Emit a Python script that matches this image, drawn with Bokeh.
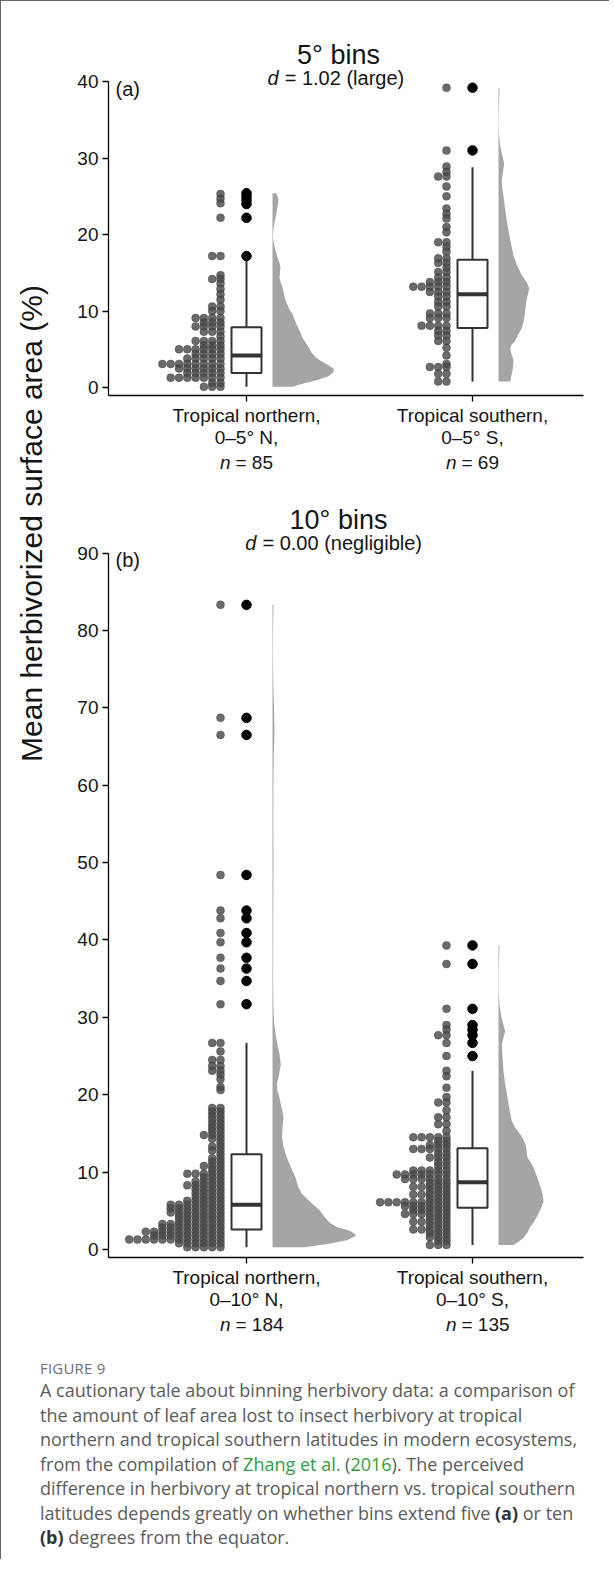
import math
import numpy as np
from bokeh.plotting import figure
from bokeh.models import Range1d, FixedTicker, Label, Div
from bokeh.layouts import column, row
from bokeh.embed import file_html
from bokeh.resources import INLINE
from bokeh.core.properties import value

# ---------------- data ----------------
group_pos = [1, 2]
xlab_a = ["Tropical northern,\n0–5° N,", "Tropical southern,\n0–5° S,"]
xlab_b = ["Tropical northern,\n0–10° N,", "Tropical southern,\n0–10° S,"]
n_a = [85, 69]
n_b = [184, 135]
title_a, effect_a, tag_a = "5° bins", "= 1.02 (large)", "(a)"
title_b, effect_b, tag_b = "10° bins", "= 0.00 (negligible)", "(b)"
yticks_a = [0, 10, 20, 30, 40]
yticks_b = [0, 10, 20, 30, 40, 50, 60, 70, 80, 90]
ylabel = "Mean herbivorized surface area (%)"

# dot-plot bins (value of bin, number of stacked dots)
a_n_vals = [25.3, 24.7, 24.1, 22.2, 17.2, 14.7, 14.2, 13.6, 12.9, 12.2, 11.5, 10.6, 10.0, 9.1, 8.5,
            8.0, 7.3, 6.7, 6.1, 5.5, 5.0, 4.4, 3.8, 3.1, 2.5, 1.9, 1.3, 0.6, 0.1]
a_n_cnt = [1, 1, 1, 1, 2, 1, 2, 1, 1, 1, 1, 2, 2, 4, 3, 4, 3, 1, 4, 3, 6, 4, 5, 8, 6, 5, 7, 2, 3]
a_s_vals = [39.2, 31.0, 28.9, 28.2, 27.6, 26.3, 25.0, 23.4, 22.7, 22.1, 21.0, 20.3, 19.0, 18.4, 17.8,
            16.9, 16.3, 15.7, 15.1, 14.4, 13.8, 13.2, 12.5, 11.9, 11.2, 10.6, 9.7, 9.1, 8.1, 7.4,
            6.8, 6.1, 5.2, 4.2, 3.1, 2.7, 1.8, 0.8]
a_s_cnt = [1, 1, 1, 1, 2, 1, 1, 1, 1, 1, 1, 1, 2, 1, 1, 2, 2, 1, 2, 2, 3, 5, 3, 2, 2, 2, 3, 3, 4, 2,
           2, 2, 1, 1, 1, 3, 2, 2]
b_n_vals = [83.3, 68.7, 66.5, 48.4, 43.8, 42.8, 40.9, 39.7, 37.7, 36.3, 34.7, 31.7,
            26.7, 25.6, 24.5, 23.7, 23.1, 22.6, 22.0, 21.0, 20.6,
            18.3, 17.8, 17.3, 16.8, 16.3, 15.8, 15.3, 14.8, 14.3, 13.8, 13.3, 12.8, 12.3, 11.8,
            11.3, 10.8, 10.3, 9.8, 9.3, 8.8, 8.3, 7.8, 7.3, 6.8, 6.3, 5.8, 5.3, 4.8, 4.3, 3.8,
            3.3, 2.8, 2.3, 1.8, 1.3, 0.8, 0.3]
b_n_cnt = [1, 1, 1, 1, 1, 1, 1, 1, 1, 1, 1, 1,
           2, 1, 2, 2, 2, 1, 1, 1, 1,
           2, 2, 2, 2, 2, 2, 2, 3, 2, 1, 2, 2, 1, 2,
           2, 3, 2, 5, 3, 4, 5, 4, 4, 4, 5, 7, 7, 7, 6, 6,
           8, 8, 10, 9, 12, 6, 5]
b_s_vals = [39.3, 36.9, 31.1, 29.0, 28.4, 27.7, 26.7, 25.0, 23.1, 22.4, 20.9, 19.7, 19.0, 18.0,
            17.1, 16.2, 15.3, 14.5, 14.0, 13.5, 13.0, 12.4, 11.9, 11.3, 10.8, 10.2, 9.7, 9.1,
            8.6, 8.1, 7.6, 7.1, 6.6, 6.1, 5.6, 5.1, 4.6, 4.1, 3.6, 3.1, 2.6, 2.1, 1.6, 1.1, 0.6]
b_s_cnt = [1, 1, 1, 1, 1, 2, 1, 1, 1, 1, 1, 1, 2, 1,
           2, 2, 1, 5, 2, 3, 5, 2, 3, 2, 2, 5, 7, 6,
           3, 5, 3, 5, 3, 9, 6, 5, 6, 3, 5, 3, 5, 3, 3, 2, 3]

# box-plot statistics: lower whisker, Q1, median, Q3, upper whisker
a_n_box = [0.1, 1.9, 4.2, 7.9, 16.9]
a_s_box = [0.8, 7.8, 12.2, 16.7, 28.8]
b_n_box = [0.3, 2.6, 5.8, 12.3, 26.7]
b_s_box = [0.6, 5.4, 8.7, 13.1, 23.1]
a_n_out = [25.4, 25.0, 24.5, 24.0, 22.2, 17.2]
a_s_out = [39.2, 31.0]
b_n_out = [83.3, 68.7, 66.5, 48.4, 43.8, 42.8, 40.9, 39.7, 37.7, 36.3, 34.7, 31.7]
b_s_out = [39.3, 36.9, 31.1, 29.0, 28.4, 27.7, 26.7, 25.0]

# half-violin density profiles (value, density width)
a_n_dy = [0.1, 0.5, 1.0, 1.5, 2.0, 2.5, 3.0, 3.5, 4.0, 4.6, 5.3, 5.9, 6.5, 7.2, 8.0, 8.9, 9.6,
          10.2, 10.8, 11.4, 12.2, 13.1, 13.8, 14.4, 15.0, 15.7, 16.3, 17.0, 17.8, 18.7, 19.3,
          19.9, 20.8, 22.0, 22.9, 23.7, 24.3, 24.8, 25.4]
a_n_dw = [20, 30, 45, 56, 61, 61, 55, 48, 43, 39, 36, 33, 30, 28, 25, 22, 20,
          17, 15, 13, 11.5, 10, 8, 7, 7.5, 8, 7, 5, 3.3, 1.7, 0.8,
          0.4, 1, 2.7, 4, 5, 6, 5.5, 4]
a_s_dy = [0.8, 1.3, 1.8, 2.6, 3.6, 4.4, 5.1, 5.6, 6.1, 7.0, 7.8, 8.9, 10.0, 11.3, 12.2, 13.0,
          13.8, 14.7, 16.0, 17.3, 18.5, 19.8, 21.1, 22.4, 23.7, 25.0, 26.0, 27.1, 28.2, 29.3,
          30.5, 31.5, 32.3, 33.6, 35.0, 36.5, 38.0, 39.2]
a_s_dw = [11.7, 12.5, 13.3, 14.5, 15, 13, 11.7, 13, 16.7, 20, 23.3, 25.5, 26.7, 27.7, 29.5, 30.7,
          28, 23.3, 18.5, 15, 13, 11, 9.2, 7.7, 6.3, 5, 3.8, 3.3, 4.5, 5.7,
          3.5, 1.8, 1, 0.3, 0.3, 0.5, 0.8, 1]
b_n_dy = [0.3, 0.7, 1.2, 1.8, 2.4, 2.9, 3.5, 4.2, 5.1, 6.0, 7.2, 8.2, 9.4, 10.6, 11.9, 13.2, 14.5,
          15.8, 17.1, 18.4, 19.6, 20.5, 21.3, 22.6, 23.9, 25.2, 26.5, 27.4, 28.2, 29.5, 31, 35,
          40, 45, 50, 55, 60, 64, 67, 70, 73, 77, 80, 83.3]
b_n_dw = [32, 55, 74, 84, 78, 64, 57, 52, 47, 39, 29.3, 25.5, 22.7, 18.5, 14.3, 11, 9.5,
          10, 11, 9, 7, 5, 4.3, 6.5, 8.3, 7, 5, 3.5, 2.7, 1.5, 1, 0.6,
          0.7, 0.8, 1, 0.8, 0.9, 1.3, 2, 1.5, 0.8, 0.4, 0.5, 1]
b_s_dy = [0.6, 1.0, 1.5, 2.2, 2.9, 3.5, 4.2, 5.2, 6.2, 7.2, 8.2, 9.4, 10.6, 11.3, 11.9, 12.8,
          13.6, 14.3, 14.9, 15.7, 16.6, 17.7, 18.8, 20.0, 21.5, 23.0, 24.8, 26.5, 27.4, 28.2,
          29.0, 30.0, 31.6, 33.0, 34.6, 36.5, 38.0, 39.3]
b_s_dw = [15, 20, 25, 29, 31.7, 35, 38.3, 42, 45, 44, 41.7, 38.5, 35, 32, 29, 28,
          27, 24.5, 21.7, 17, 13.3, 11.5, 10, 8.5, 6.5, 5, 4, 3.3, 5, 6.7,
          5, 2.8, 1, 0.4, 0.3, 0.4, 0.7, 1]

caption_head = "FIGURE 9"
caption_lines = [
    "A cautionary tale about binning herbivory data: a comparison of",
    "the amount of leaf area lost to insect herbivory at tropical",
    "northern and tropical southern latitudes in modern ecosystems,",
    "from the compilation of <span style='color:#2f9e3c'>Zhang et al.</span> (<span style='color:#2f9e3c'>2016</span>). The perceived",
    "difference in herbivory at tropical northern vs. tropical southern",
    "latitudes depends greatly on whether bins extend five <b style='color:#333'>(a)</b> or ten",
    "<b style='color:#333'>(b)</b> degrees from the equator.",
]

# ---------------- layout constants ----------------
PX = 226.0           # pixels per category unit
FW = 543             # panel figure width
ML, MR = 52, 16
X0 = 1 - (253 - 115) / PX
X1 = X0 + (FW - ML - MR) / PX
FONT = "Liberation Sans"
TXT = "#151515"
DOT = 8.3
DOT_OFF = 26
BOX_HW = 15
VIO_OFF = 26
MB = 49
NH = 22


def panel(top_border, frame_h, ylo, ytop, yhi, yticks, xlabels, title, effect, tag,
          title_dy, sub_dy, tag_dy, groups):
    p = figure(width=FW, height=top_border + frame_h + MB, x_range=Range1d(X0, X1),
               y_range=Range1d(ylo, yhi), output_backend="svg", toolbar_location=None,
               min_border_left=ML, min_border_right=MR, min_border_top=top_border,
               min_border_bottom=MB, outline_line_color=None)
    p.grid.visible = False
    scale = frame_h / (yhi - ylo)

    for c, (vals, cnts, box, outs, dy, dw) in zip(group_pos, groups):
        base = c + VIO_OFF / PX
        dy_a = np.array(dy, float)
        dw_a = np.array(dw, float)
        p.harea(x1=np.full(len(dy_a), base), x2=base + dw_a / PX, y=dy_a,
                fill_color="#a5a5a5", fill_alpha=1.0)
        xs, ys = [], []
        for v, k in zip(vals, cnts):
            for j in range(k):
                xs.append(c - (DOT_OFF + j * DOT) / PX)
                ys.append(v)
        p.scatter(xs, ys, size=8, fill_color="#4a4a4a", fill_alpha=0.82,
                  line_color="#2e2e2e", line_alpha=0.55, line_width=0.6)
        lo, q1, med, q3, hi = box
        p.segment([c, c], [lo, q3], [c, c], [q1, hi], line_color="#333333", line_width=2)
        p.quad(left=[c - BOX_HW / PX], right=[c + BOX_HW / PX], bottom=[q1], top=[q3],
               fill_color="white", line_color="#333333", line_width=2)
        p.segment([c - BOX_HW / PX], [med], [c + BOX_HW / PX], [med],
                  line_color="#333333", line_width=4)
        p.scatter([c] * len(outs), outs, size=9.5, fill_color="black", line_color="black")

    p.xaxis.ticker = FixedTicker(ticks=group_pos)
    p.xaxis.major_label_overrides = {g: lab for g, lab in zip(group_pos, xlabels)}
    p.yaxis.ticker = FixedTicker(ticks=yticks)
    p.yaxis.bounds = (ylo, ytop)
    for ax in (p.xaxis[0], p.yaxis[0]):
        ax.axis_line_color = "black"
        ax.axis_line_width = 1.3
        ax.major_tick_line_color = "black"
        ax.major_tick_line_width = 1.3
        ax.major_tick_out = 6
        ax.major_tick_in = 0
        ax.minor_tick_line_color = None
        ax.major_label_text_font = FONT
        ax.major_label_text_font_size = "19px"
        ax.major_label_text_color = TXT
        ax.major_label_text_line_height = 1.05
    p.yaxis.major_label_standoff = 4
    p.xaxis.major_label_standoff = 3

    def yat(dy_px):
        return ytop + dy_px / scale

    xc = 1 + (345 - 253) / PX
    p.add_layout(Label(x=xc, y=yat(title_dy), text=title, text_font=FONT, text_font_size="27px",
                       text_align="center", text_baseline="middle", text_color=TXT))
    tot = 11 + 6 + len(effect) * 8.9
    dsplit = 1 + (345 - tot / 2 + 11 - 253) / PX
    p.add_layout(Label(x=dsplit, y=yat(sub_dy), text="d", text_font=FONT,
                       text_font_style="italic", text_font_size="20px", text_align="right",
                       text_baseline="middle", text_color=TXT))
    p.add_layout(Label(x=dsplit + 6 / PX, y=yat(sub_dy), text=effect, text_font=FONT,
                       text_font_size="20px", text_align="left", text_baseline="middle",
                       text_color=TXT))
    p.add_layout(Label(x=1 + (122 - 253) / PX, y=yat(tag_dy), text=tag, text_font=FONT,
                       text_font_size="20px", text_align="left", text_baseline="middle",
                       text_color=TXT))
    return p


def n_row(ns):
    q = figure(width=FW, height=NH, x_range=Range1d(X0, X1), y_range=Range1d(0, 1),
               output_backend="svg", toolbar_location=None, min_border_left=ML,
               min_border_right=MR, min_border_top=0, min_border_bottom=0,
               x_axis_location=None, y_axis_location=None, outline_line_color=None)
    q.grid.visible = False
    for c, n in zip(group_pos, ns):
        split = c - 16 / PX
        q.add_layout(Label(x=split, y=0.45, text="n", text_font=FONT, text_font_style="italic",
                           text_font_size="19px", text_align="right", text_baseline="middle",
                           text_color=TXT))
        q.add_layout(Label(x=split + 5 / PX, y=0.45, text=f"= {n}", text_font=FONT,
                           text_font_size="19px", text_align="left", text_baseline="middle",
                           text_color=TXT))
    return q


# panel a: frame from page y 35 to 409 ; 40 at y 90
pa = panel(26, 374, -1.03, 40, 40 + 55 / 7.775, yticks_a, xlab_a, title_a, effect_a, tag_a,
           27, 4, -7,
           [(a_n_vals, a_n_cnt, a_n_box, a_n_out, a_n_dy, a_n_dw),
            (a_s_vals, a_s_cnt, a_s_box, a_s_out, a_s_dy, a_s_dw)])
na = n_row(n_a)
# panel b: frame from page y 500 to 1271 ; 90 at y 561
pb = panel(20, 771, -1.03, 90, 90 + 61 / 7.8, yticks_b, xlab_b, title_b, effect_b, tag_b,
           33, 10, -7,
           [(b_n_vals, b_n_cnt, b_n_box, b_n_out, b_n_dy, b_n_dw),
            (b_s_vals, b_s_cnt, b_s_box, b_s_out, b_s_dy, b_s_dw)])
nb = n_row(n_b)

LH = pa.height + NH + pb.height + NH
pl = figure(width=55, height=LH, x_range=Range1d(0, 55), y_range=Range1d(0, LH),
            output_backend="svg", toolbar_location=None, min_border=0,
            x_axis_location=None, y_axis_location=None, outline_line_color=None)
pl.grid.visible = False
pl.text(x=[30], y=[LH - (531 - 9)], text=[ylabel], angle=math.pi / 2, text_align="center",
        text_baseline="middle", text_font=value(FONT), text_font_size="30px", text_color=TXT)

cap_html = (
    "<div style=\"padding-left:34px;font-family:'Open Sans',sans-serif;color:#5b5b5b;\">"
    f"<div style='font-size:15px;line-height:20px;margin-top:19px;color:#707070;letter-spacing:0.2px'>{caption_head}</div>"
    "<div style='font-size:18px;line-height:24.5px;white-space:nowrap;'>"
    + "<br>".join(caption_lines) + "</div></div>"
)
cap = Div(text=cap_html, width=598, height=215)

top = row(pl, column(pa, na, pb, nb, spacing=0), spacing=0)
layout = column(top, cap, spacing=0,
                styles={"border-left": "1px solid #666", "border-top": "1px solid #666"})

open("out.html", "w").write(file_html(layout, INLINE))
